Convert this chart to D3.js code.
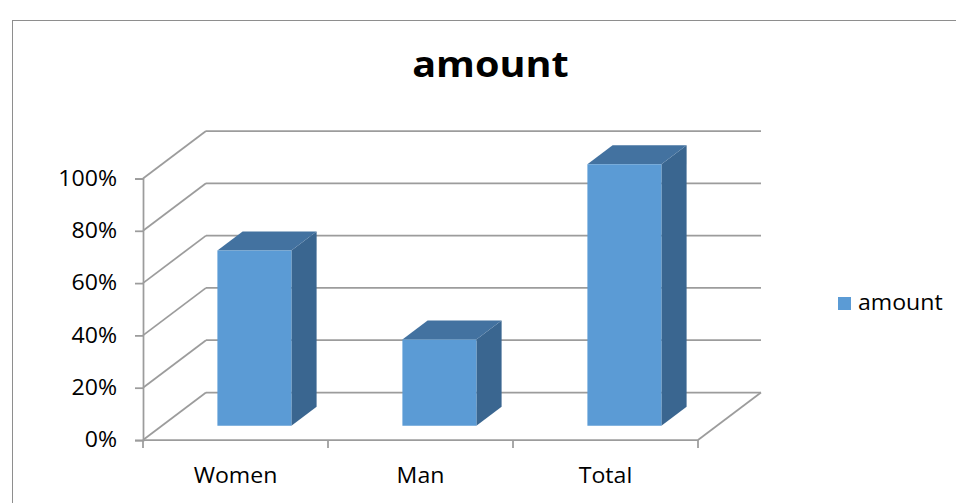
<!DOCTYPE html>
<html>
<head>
<meta charset="utf-8">
<script src="https://cdn.jsdelivr.net/npm/d3@7"></script>
<style>
  html, body { margin: 0; padding: 0; background: #fff; }
  svg { display: block; }
  text { font-family: "Open Sans", "Noto Sans", sans-serif; fill: #000; }
</style>
</head>
<body>
<svg id="chart" width="956" height="503"></svg>
<script>
// ---- data ----
const categories = ["Women", "Man", "Total"];
const seriesName = "amount";
const values = [0.67, 0.33, 1.00];
const yTicks = [0, 0.2, 0.4, 0.6, 0.8, 1.0];
const titleText = "amount";

// ---- layout ----
const W = 956, H = 503;
const frontLeft = 143, frontRight = 698;
const yBottom = 440, yTop = 178.5;
const depthDx = 63, depthDy = -47.5;      // floor depth projection
const barDepth0 = 0.3, barDepth1 = 0.7;   // bar placed in middle of the depth
const barWidthFrac = 0.4;
const stretchK = 1.1;

const colFront = "#5B9BD5", colTop = "#4372A0", colSide = "#3A6690";
const gridCol = "#9C9C9C";

const svg = d3.select("#chart");

function stretch(sel, k) {
  sel.each(function () {
    const len = this.getComputedTextLength();
    d3.select(this).attr("textLength", len * k).attr("lengthAdjust", "spacingAndGlyphs");
  });
}

// outer border (continues beyond the right and bottom edges)
svg.append("rect").attr("x", 12.5).attr("y", 20.5).attr("width", W + 20).attr("height", H + 20)
  .attr("fill", "#fff").attr("stroke", "#8E8E8E").attr("stroke-width", 1);

const x = d3.scaleBand().domain(categories).range([frontLeft, frontRight]).paddingInner(0).paddingOuter(0);
const y = d3.scaleLinear().domain([0, 1]).range([yBottom, yTop]);

const P = (px, py, f) => [px + depthDx * f, py + depthDy * f];
const line = d3.line();

const g = svg.append("g");

// back wall gridlines
yTicks.forEach(t => {
  const a = P(frontLeft, y(t), 1), b = P(frontRight, y(t), 1);
  g.append("path").attr("d", line([a, b])).attr("stroke", gridCol).attr("stroke-width", 1.75).attr("fill", "none");
});
// side wall diagonals
yTicks.forEach(t => {
  const a = P(frontLeft, y(t), 0), b = P(frontLeft, y(t), 1);
  g.append("path").attr("d", line([a, b])).attr("stroke", gridCol).attr("stroke-width", 1.75).attr("fill", "none");
});
// floor front edge and right floor diagonal
g.append("path").attr("d", line([P(frontLeft, y(0), 0), P(frontRight, y(0), 0)]))
  .attr("stroke", gridCol).attr("stroke-width", 1.75).attr("fill", "none");
g.append("path").attr("d", line([P(frontRight, y(0), 0), P(frontRight, y(0), 1)]))
  .attr("stroke", gridCol).attr("stroke-width", 1.75).attr("fill", "none");

// category tick marks at band edges
const edges = categories.map(c => x(c)).concat([x(categories[categories.length - 1]) + x.bandwidth()]);
edges.forEach(ex => {
  g.append("path").attr("d", line([[ex, yBottom], [ex, yBottom + 8]]))
    .attr("stroke", gridCol).attr("stroke-width", 1.75);
});

// y axis (front)
const yAxis = d3.axisLeft(y).tickValues(yTicks).tickFormat(d3.format(".0%")).tickSize(8).tickPadding(18);
const ya = svg.append("g").attr("transform", `translate(${frontLeft},0)`).call(yAxis);
ya.select(".domain").attr("stroke", gridCol).attr("stroke-width", 1.75);
ya.selectAll(".tick line").attr("stroke", gridCol).attr("stroke-width", 1.75);
ya.selectAll(".tick text").attr("font-size", 21).attr("font-family", "Open Sans").attr("fill", "#000").call(stretch, stretchK);

// x axis labels
const xAxis = d3.axisBottom(x).tickSize(0).tickPadding(0);
const xa = svg.append("g").attr("transform", `translate(0,${yBottom})`).call(xAxis);
xa.select(".domain").remove();
xa.selectAll(".tick text").attr("y", 43).attr("dy", null).attr("font-size", 21)
  .attr("font-family", "Open Sans").attr("fill", "#000").call(stretch, stretchK);

// bars
const bw = x.bandwidth() * barWidthFrac;
const bars = svg.append("g");
categories.forEach((c, i) => {
  const v = values[i];
  const cx = x(c) + x.bandwidth() / 2;
  const x0 = cx - bw / 2, x1 = cx + bw / 2;
  const fBL = P(x0, y(0), barDepth0), fBR = P(x1, y(0), barDepth0);
  const fTL = P(x0, y(v), barDepth0), fTR = P(x1, y(v), barDepth0);
  const bBR = P(x1, y(0), barDepth1);
  const bTL = P(x0, y(v), barDepth1), bTR = P(x1, y(v), barDepth1);
  bars.append("path").attr("d", line([fBR, bBR, bTR, fTR]) + "Z").attr("fill", colSide);
  bars.append("path").attr("d", line([fTL, fTR, bTR, bTL]) + "Z").attr("fill", colTop);
  bars.append("path").attr("d", line([fBL, fBR, fTR, fTL]) + "Z").attr("fill", colFront);
});

// title
svg.append("text").attr("x", 490.5).attr("y", 77).attr("text-anchor", "middle")
  .attr("font-size", 36).attr("font-weight", "bold").text(titleText).call(stretch, stretchK);

// legend
const lg = svg.append("g").attr("transform", "translate(838,297)");
lg.append("rect").attr("width", 13).attr("height", 13).attr("fill", colFront);
lg.append("text").attr("x", 20).attr("y", 13).attr("font-size", 21).text(seriesName).call(stretch, stretchK);
</script>
</body>
</html>
